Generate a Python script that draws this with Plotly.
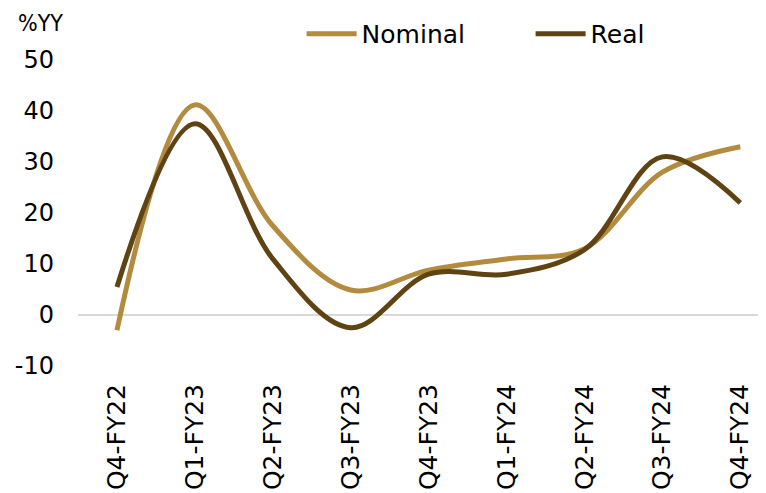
import plotly.graph_objects as go

quarters = ['Q4-FY22', 'Q1-FY23', 'Q2-FY23', 'Q3-FY23', 'Q4-FY23',
            'Q1-FY24', 'Q2-FY24', 'Q3-FY24', 'Q4-FY24']
nominal = [-3.0, 41.2, 17.5, 4.9, 8.8, 11.0, 13.0, 28.0, 33.0]
real = [5.5, 37.5, 11.0, -2.5, 8.0, 8.0, 12.8, 31.0, 22.0]
y_ticks = [-10, 0, 10, 20, 30, 40, 50]
y_labels = ['-10', '0', '10', '20', '30', '40', '50']

font_family = "DejaVu Sans, sans-serif"

fig = go.Figure()
fig.add_trace(go.Scatter(
    x=quarters, y=nominal, name='Nominal', mode='lines',
    line=dict(color='#B38B3F', width=5, shape='spline', smoothing=1.0),
))
fig.add_trace(go.Scatter(
    x=quarters, y=real, name='Real', mode='lines',
    line=dict(color='#604313', width=5, shape='spline', smoothing=1.0),
))

# the page body adds an 8px offset, so margins are shifted to compensate
fig.update_layout(
    width=766, height=493,
    margin=dict(l=70, r=8, t=52, b=135, autoexpand=False),
    plot_bgcolor='white', paper_bgcolor='white',
    font=dict(family=font_family, size=24, color='black'),
    showlegend=True,
    legend=dict(orientation='h', x=0.325, y=1.085, xanchor='left', yanchor='middle',
                font=dict(size=25), itemwidth=50, entrywidth=164,
                entrywidthmode='pixels', bgcolor='rgba(0,0,0,0)'),
    xaxis=dict(range=[-0.5, 8.33], tickangle=-90, showgrid=False, showline=False,
               ticks='', tickfont=dict(size=25), zeroline=False, ticklabelstandoff=12),
    yaxis=dict(range=[-10, 50], tickvals=y_ticks, ticktext=y_labels, showgrid=False,
               zeroline=True, zerolinecolor='#D9D9D9', zerolinewidth=2, showline=False,
               ticks='', tickfont=dict(size=24), ticklabelstandoff=23),
    annotations=[dict(text='%YY', x=-0.09, y=1.12, xref='paper', yref='paper',
                      xanchor='left', yanchor='middle', showarrow=False,
                      font=dict(size=23, family='DejaVu Sans Condensed, DejaVu Sans'))],
)

fig.write_html("out.html")
